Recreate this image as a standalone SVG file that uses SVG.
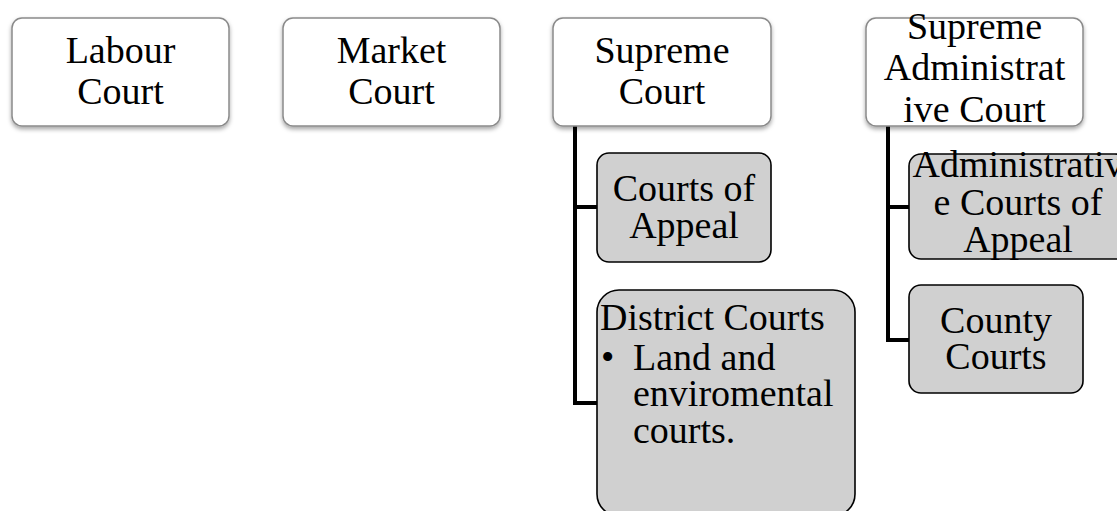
<svg xmlns="http://www.w3.org/2000/svg" width="1117" height="511" viewBox="0 0 1117 511">
<defs>
<filter id="sh" x="-10%" y="-10%" width="120%" height="130%">
<feDropShadow dx="0" dy="2.5" stdDeviation="2" flood-color="#000" flood-opacity="0.35"/>
</filter>
<style>
.top{fill:#ffffff;stroke:#8a8a8a;stroke-width:1.5;filter:url(#sh)}
.sub{fill:#d0d0d0;stroke:#000;stroke-width:1.6}
.t{font-family:"Liberation Serif","Times New Roman",serif;font-size:38px;fill:#000}
.c{text-anchor:middle}
.con{fill:none;stroke:#000;stroke-width:4;stroke-linejoin:miter}
</style>
</defs>
<rect width="1117" height="511" fill="#fff"/>
<g id="connectors">
<path class="con" d="M575 126 V403 H597 M575 207 H597"/>
<path class="con" d="M888 126 V340 H909 M888 207 H909"/>
</g>
<g id="labour-court">
<rect class="top" x="12" y="18" width="217" height="108" rx="10"/>
<text class="t c" x="120.5" y="63">Labour</text>
<text class="t c" x="120.5" y="104">Court</text>
</g>
<g id="market-court">
<rect class="top" x="283" y="18" width="217" height="108" rx="10"/>
<text class="t c" x="391.5" y="63">Market</text>
<text class="t c" x="391.5" y="104">Court</text>
</g>
<g id="supreme-court">
<rect class="top" x="553" y="18" width="218" height="108" rx="10"/>
<text class="t c" x="662" y="63">Supreme</text>
<text class="t c" x="662" y="104">Court</text>
</g>
<g id="supreme-administrative-court">
<rect class="top" x="866" y="18" width="217" height="108" rx="10"/>
<text class="t c" x="974.5" y="39">Supreme</text>
<text class="t c" x="974.5" y="80">Administrat</text>
<text class="t c" x="974.5" y="122">ive Court</text>
</g>
<g id="courts-of-appeal">
<rect class="sub" x="597" y="153" width="174" height="109" rx="12"/>
<text class="t c" x="684" y="201">Courts of</text>
<text class="t c" x="684" y="238">Appeal</text>
</g>
<g id="district-courts">
<rect class="sub" x="597" y="290" width="258" height="226" rx="22"/>
<text class="t" x="600" y="330">District Courts</text>
<text class="t" x="601" y="370">•</text>
<text class="t" x="633" y="370">Land and</text>
<text class="t" x="633" y="406">enviromental</text>
<text class="t" x="633" y="443">courts.</text>
</g>
<g id="administrative-courts-of-appeal">
<rect class="sub" x="909" y="154" width="218" height="105" rx="12"/>
<text class="t c" x="1018" y="177">Administrativ</text>
<text class="t c" x="1018" y="215">e Courts of</text>
<text class="t c" x="1018" y="252">Appeal</text>
</g>
<g id="county-courts">
<rect class="sub" x="909" y="285" width="174" height="108" rx="12"/>
<text class="t c" x="996" y="333">County</text>
<text class="t c" x="996" y="369">Courts</text>
</g>
</svg>
